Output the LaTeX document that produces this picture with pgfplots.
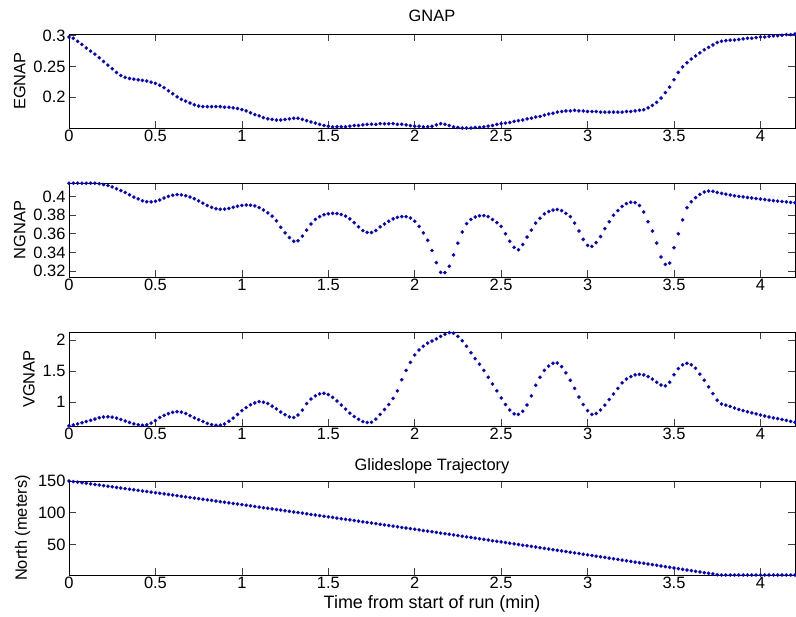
\documentclass[border=0pt]{standalone}
\usepackage{fontspec}
\setmainfont{Liberation Sans}
\usepackage{pgfplots}
\pgfplotsset{compat=1.18}
\definecolor{mblue}{RGB}{0,0,255}
\pgfplotsset{
  mstyle/.style={
    scale only axis, width=726bp, height=94bp,
    xmin=0, xmax=4.2, clip=false,
    xtick={0,0.5,1,1.5,2,2.5,3,3.5,4},
    xticklabels={0,0.5,1,1.5,2,2.5,3,3.5,4},
    tick align=inside, tick pos=both, major tick length=7bp,
    axis line style={line width=0.9bp},
    tick style={line width=0.7bp, black!75},
    tick label style={font=\fontsize{16.5}{19}\selectfont},
    xticklabel style={yshift=1bp},
    label style={font=\fontsize{16.5}{19}\selectfont},
    ylabel style={yshift=1bp},
    title style={font=\fontsize{16.5}{19}\selectfont},
    /pgf/number format/assume math mode=true,
    every axis plot/.style={only marks, mark=*, mark size=1.6bp, color=mblue, mark options={draw=none, fill=mblue}},
  }
}
\begin{document}
\begin{tikzpicture}
\useasboundingbox (0,0) rectangle (796bp,617bp);
% ---------------- EGNAP
\begin{axis}[mstyle, at={(69bp,489bp)}, anchor=south west,
  ymin=0.149, ymax=0.303, ytick={0.2,0.25,0.3}, yticklabels={0.2,0.25,0.3},
  ylabel={EGNAP}, title={GNAP}, title style={yshift=3bp}]
\addplot coordinates {
(0.000,0.298)(0.025,0.296)(0.050,0.291)(0.075,0.286)(0.100,0.280)(0.125,0.275)(0.150,0.270)(0.175,0.264)(0.200,0.258)(0.225,0.252)
(0.250,0.246)(0.275,0.240)(0.300,0.235)(0.325,0.232)(0.350,0.230)(0.375,0.229)(0.400,0.228)(0.425,0.227)(0.450,0.226)(0.475,0.224)
(0.500,0.222)(0.525,0.219)(0.550,0.215)(0.575,0.210)(0.600,0.205)(0.625,0.200)(0.650,0.196)(0.675,0.193)(0.700,0.190)(0.725,0.187)
(0.750,0.185)(0.775,0.184)(0.800,0.184)(0.825,0.184)(0.850,0.184)(0.875,0.184)(0.900,0.183)(0.925,0.183)(0.950,0.182)(0.975,0.181)
(1.000,0.179)(1.025,0.177)(1.050,0.174)(1.075,0.171)(1.100,0.169)(1.125,0.166)(1.150,0.164)(1.175,0.163)(1.200,0.162)(1.225,0.162)
(1.250,0.163)(1.275,0.164)(1.300,0.165)(1.325,0.165)(1.350,0.163)(1.375,0.161)(1.400,0.159)(1.425,0.157)(1.450,0.155)(1.475,0.153)
(1.500,0.152)(1.525,0.151)(1.550,0.151)(1.575,0.151)(1.600,0.151)(1.625,0.152)(1.650,0.153)(1.675,0.153)(1.700,0.154)(1.725,0.155)
(1.750,0.155)(1.775,0.155)(1.800,0.156)(1.825,0.156)(1.850,0.156)(1.875,0.156)(1.900,0.155)(1.925,0.155)(1.950,0.154)(1.975,0.153)
(2.000,0.152)(2.025,0.152)(2.050,0.151)(2.075,0.151)(2.100,0.152)(2.125,0.154)(2.150,0.156)(2.175,0.155)(2.200,0.153)(2.225,0.151)
(2.250,0.150)(2.275,0.149)(2.300,0.149)(2.325,0.149)(2.350,0.150)(2.375,0.150)(2.400,0.151)(2.425,0.152)(2.450,0.153)(2.475,0.155)
(2.500,0.156)(2.525,0.157)(2.550,0.158)(2.575,0.160)(2.600,0.161)(2.625,0.162)(2.650,0.164)(2.675,0.165)(2.700,0.167)(2.725,0.168)
(2.750,0.170)(2.775,0.172)(2.800,0.173)(2.825,0.175)(2.850,0.176)(2.875,0.177)(2.900,0.177)(2.925,0.178)(2.950,0.177)(2.975,0.177)
(3.000,0.176)(3.025,0.176)(3.050,0.176)(3.075,0.175)(3.100,0.175)(3.125,0.175)(3.150,0.175)(3.175,0.175)(3.200,0.175)(3.225,0.176)
(3.250,0.176)(3.275,0.177)(3.300,0.178)(3.325,0.179)(3.350,0.182)(3.375,0.186)(3.400,0.191)(3.425,0.198)(3.450,0.207)(3.475,0.216)
(3.500,0.228)(3.525,0.240)(3.550,0.249)(3.575,0.256)(3.600,0.262)(3.625,0.267)(3.650,0.272)(3.675,0.277)(3.700,0.281)(3.725,0.285)
(3.750,0.289)(3.775,0.291)(3.800,0.292)(3.825,0.293)(3.850,0.293)(3.875,0.294)(3.900,0.295)(3.925,0.296)(3.950,0.296)(3.975,0.297)
(4.000,0.298)(4.025,0.298)(4.050,0.299)(4.075,0.300)(4.100,0.300)(4.125,0.301)(4.150,0.302)(4.175,0.302)(4.200,0.303)
};
\end{axis}
% ---------------- NGNAP
\begin{axis}[mstyle, at={(69bp,340bp)}, anchor=south west,
  ymin=0.3135, ymax=0.4147, ytick={0.32,0.34,0.36,0.38,0.4}, yticklabels={0.32,0.34,0.36,0.38,0.4},
  ylabel={NGNAP}]
\addplot coordinates {
(0.000,0.4145)(0.025,0.4145)(0.050,0.4145)(0.075,0.4145)(0.100,0.4145)(0.125,0.4145)(0.150,0.4145)(0.175,0.4140)(0.200,0.4130)(0.225,0.4120)
(0.250,0.4105)(0.275,0.4085)(0.300,0.4065)(0.325,0.4045)(0.350,0.4020)(0.375,0.3995)(0.400,0.3975)(0.425,0.3955)(0.450,0.3945)(0.475,0.3943)
(0.500,0.3950)(0.525,0.3965)(0.550,0.3985)(0.575,0.4003)(0.600,0.4015)(0.625,0.4022)(0.650,0.4020)(0.675,0.4010)(0.700,0.3995)(0.725,0.3978)
(0.750,0.3955)(0.775,0.3930)(0.800,0.3905)(0.825,0.3885)(0.850,0.3870)(0.875,0.3864)(0.900,0.3866)(0.925,0.3873)(0.950,0.3885)(0.975,0.3897)
(1.000,0.3905)(1.025,0.3910)(1.050,0.3908)(1.075,0.3900)(1.100,0.3882)(1.125,0.3857)(1.150,0.3825)(1.175,0.3790)(1.200,0.3740)(1.225,0.3670)
(1.250,0.3610)(1.275,0.3560)(1.300,0.3520)(1.325,0.3525)(1.350,0.3575)(1.375,0.3640)(1.400,0.3705)(1.425,0.3755)(1.450,0.3785)(1.475,0.3805)
(1.500,0.3815)(1.525,0.3820)(1.550,0.3818)(1.575,0.3808)(1.600,0.3790)(1.625,0.3760)(1.650,0.3720)(1.675,0.3675)(1.700,0.3635)(1.725,0.3615)
(1.750,0.3613)(1.775,0.3635)(1.800,0.3675)(1.825,0.3705)(1.850,0.3735)(1.875,0.3760)(1.900,0.3777)(1.925,0.3785)(1.950,0.3785)(1.975,0.3770)
(2.000,0.3735)(2.025,0.3680)(2.050,0.3610)(2.075,0.3530)(2.100,0.3420)(2.125,0.3290)(2.150,0.3185)(2.175,0.3182)(2.200,0.3250)(2.225,0.3372)
(2.250,0.3500)(2.275,0.3620)(2.300,0.3710)(2.325,0.3755)(2.350,0.3780)(2.375,0.3795)(2.400,0.3795)(2.425,0.3785)(2.450,0.3755)(2.475,0.3720)
(2.500,0.3680)(2.525,0.3600)(2.550,0.3520)(2.575,0.3455)(2.600,0.3428)(2.625,0.3485)(2.650,0.3565)(2.675,0.3640)(2.700,0.3715)(2.725,0.3767)
(2.750,0.3815)(2.775,0.3840)(2.800,0.3855)(2.825,0.3862)(2.850,0.3850)(2.875,0.3820)(2.900,0.3785)(2.925,0.3715)(2.950,0.3630)(2.975,0.3540)
(3.000,0.3475)(3.025,0.3465)(3.050,0.3505)(3.075,0.3570)(3.100,0.3655)(3.125,0.3730)(3.150,0.3800)(3.175,0.3850)(3.200,0.3895)(3.225,0.3925)
(3.250,0.3940)(3.275,0.3935)(3.300,0.3905)(3.325,0.3835)(3.350,0.3730)(3.375,0.3630)(3.400,0.3500)(3.425,0.3350)(3.450,0.3270)(3.475,0.3285)
(3.500,0.3450)(3.525,0.3600)(3.550,0.3750)(3.575,0.3880)(3.600,0.3945)(3.625,0.3990)(3.650,0.4025)(3.675,0.4050)(3.700,0.4060)(3.725,0.4058)
(3.750,0.4045)(3.775,0.4035)(3.800,0.4027)(3.825,0.4018)(3.850,0.4010)(3.875,0.4003)(3.900,0.3997)(3.925,0.3991)(3.950,0.3985)(3.975,0.3980)
(4.000,0.3974)(4.025,0.3968)(4.050,0.3962)(4.075,0.3957)(4.100,0.3952)(4.125,0.3948)(4.150,0.3943)(4.175,0.3938)(4.200,0.3935)
};
\end{axis}
% ---------------- VGNAP
\begin{axis}[mstyle, at={(69bp,191bp)}, anchor=south west,
  ymin=0.613, ymax=2.13, ytick={1,1.5,2}, yticklabels={1,1.5,2},
  ylabel={VGNAP}]
\addplot coordinates {
(0.000,0.615)(0.025,0.630)(0.050,0.648)(0.075,0.665)(0.100,0.685)(0.125,0.705)(0.150,0.725)(0.175,0.745)(0.200,0.758)(0.225,0.762)
(0.250,0.756)(0.275,0.740)(0.300,0.718)(0.325,0.693)(0.350,0.668)(0.375,0.648)(0.400,0.633)(0.425,0.625)(0.450,0.632)(0.475,0.660)
(0.500,0.700)(0.525,0.750)(0.550,0.785)(0.575,0.812)(0.600,0.833)(0.625,0.843)(0.650,0.838)(0.675,0.815)(0.700,0.780)(0.725,0.745)
(0.750,0.715)(0.775,0.685)(0.800,0.655)(0.825,0.635)(0.850,0.625)(0.875,0.627)(0.900,0.645)(0.925,0.690)(0.950,0.740)(0.975,0.800)
(1.000,0.860)(1.025,0.910)(1.050,0.955)(1.075,0.985)(1.100,1.005)(1.125,0.995)(1.150,0.975)(1.175,0.935)(1.200,0.890)(1.225,0.840)
(1.250,0.795)(1.275,0.760)(1.300,0.750)(1.325,0.790)(1.350,0.870)(1.375,0.975)(1.400,1.050)(1.425,1.100)(1.450,1.130)(1.475,1.140)
(1.500,1.120)(1.525,1.075)(1.550,1.016)(1.575,0.950)(1.600,0.885)(1.625,0.820)(1.650,0.765)(1.675,0.720)(1.700,0.685)(1.725,0.670)
(1.750,0.675)(1.775,0.725)(1.800,0.800)(1.825,0.880)(1.850,0.960)(1.875,1.060)(1.900,1.180)(1.925,1.360)(1.950,1.510)(1.975,1.640)
(2.000,1.760)(2.025,1.840)(2.050,1.900)(2.075,1.950)(2.100,1.985)(2.125,2.020)(2.150,2.060)(2.175,2.095)(2.200,2.120)(2.225,2.110)
(2.250,2.060)(2.275,1.990)(2.300,1.900)(2.325,1.795)(2.350,1.700)(2.375,1.610)(2.400,1.510)(2.425,1.400)(2.450,1.290)(2.475,1.180)
(2.500,1.065)(2.525,0.960)(2.550,0.870)(2.575,0.810)(2.600,0.800)(2.625,0.850)(2.650,0.952)(2.675,1.100)(2.700,1.270)(2.725,1.400)
(2.750,1.510)(2.775,1.580)(2.800,1.625)(2.825,1.630)(2.850,1.570)(2.875,1.470)(2.900,1.350)(2.925,1.220)(2.950,1.080)(2.975,0.960)
(3.000,0.860)(3.025,0.800)(3.050,0.815)(3.075,0.870)(3.100,0.950)(3.125,1.040)(3.150,1.130)(3.175,1.220)(3.200,1.310)(3.225,1.370)
(3.250,1.410)(3.275,1.438)(3.300,1.446)(3.325,1.438)(3.350,1.410)(3.375,1.370)(3.400,1.320)(3.425,1.275)(3.450,1.262)(3.475,1.320)
(3.500,1.440)(3.525,1.540)(3.550,1.600)(3.575,1.624)(3.600,1.600)(3.625,1.545)(3.650,1.450)(3.675,1.350)(3.700,1.245)(3.725,1.135)
(3.750,1.030)(3.775,0.968)(3.800,0.950)(3.825,0.930)(3.850,0.905)(3.875,0.880)(3.900,0.862)(3.925,0.842)(3.950,0.825)(3.975,0.808)
(4.000,0.790)(4.025,0.773)(4.050,0.758)(4.075,0.745)(4.100,0.732)(4.125,0.718)(4.150,0.703)(4.175,0.688)(4.200,0.672)
};
\end{axis}
% ---------------- North
\begin{axis}[mstyle, at={(69bp,42bp)}, anchor=south west,
  ymin=2, ymax=150, ytick={50,100,150}, yticklabels={50,100,150},
  ylabel={North (meters)}, title={Glideslope Trajectory}, title style={yshift=-2bp},
  xlabel={Time from start of run (min)}, xlabel style={yshift=0bp, font=\fontsize{18}{19}\selectfont}]
\addplot coordinates {
(0.000,150.00)(0.025,149.09)(0.050,148.17)(0.075,147.26)(0.100,146.34)(0.125,145.43)(0.150,144.51)(0.175,143.59)(0.200,142.67)(0.225,141.75)
(0.250,140.83)(0.275,139.91)(0.300,138.98)(0.325,138.06)(0.350,137.13)(0.375,136.21)(0.400,135.28)(0.425,134.35)(0.450,133.42)(0.475,132.49)
(0.500,131.56)(0.525,130.63)(0.550,129.70)(0.575,128.76)(0.600,127.83)(0.625,126.89)(0.650,125.96)(0.675,125.02)(0.700,124.08)(0.725,123.14)
(0.750,122.20)(0.775,121.26)(0.800,120.32)(0.825,119.38)(0.850,118.43)(0.875,117.49)(0.900,116.54)(0.925,115.60)(0.950,114.65)(0.975,113.70)
(1.000,112.75)(1.025,111.80)(1.050,110.85)(1.075,109.90)(1.100,108.94)(1.125,107.99)(1.150,107.03)(1.175,106.08)(1.200,105.12)(1.225,104.16)
(1.250,103.20)(1.275,102.24)(1.300,101.28)(1.325,100.32)(1.350,99.36)(1.375,98.39)(1.400,97.43)(1.425,96.46)(1.450,95.50)(1.475,94.53)
(1.500,93.56)(1.525,92.59)(1.550,91.62)(1.575,90.65)(1.600,89.68)(1.625,88.71)(1.650,87.73)(1.675,86.76)(1.700,85.78)(1.725,84.81)
(1.750,83.83)(1.775,82.85)(1.800,81.87)(1.825,80.89)(1.850,79.91)(1.875,78.93)(1.900,77.94)(1.925,76.96)(1.950,75.97)(1.975,74.99)
(2.000,74.00)(2.025,73.01)(2.050,72.02)(2.075,71.03)(2.100,70.04)(2.125,69.05)(2.150,68.06)(2.175,67.06)(2.200,66.07)(2.225,65.07)
(2.250,64.08)(2.275,63.08)(2.300,62.08)(2.325,61.08)(2.350,60.08)(2.375,59.08)(2.400,58.08)(2.425,57.08)(2.450,56.07)(2.475,55.07)
(2.500,54.06)(2.525,53.06)(2.550,52.05)(2.575,51.04)(2.600,50.03)(2.625,49.02)(2.650,48.01)(2.675,47.00)(2.700,45.98)(2.725,44.97)
(2.750,43.95)(2.775,42.94)(2.800,41.92)(2.825,40.90)(2.850,39.88)(2.875,38.86)(2.900,37.84)(2.925,36.82)(2.950,35.80)(2.975,34.77)
(3.000,33.75)(3.025,32.72)(3.050,31.70)(3.075,30.67)(3.100,29.64)(3.125,28.61)(3.150,27.58)(3.175,26.55)(3.200,25.52)(3.225,24.49)
(3.250,23.45)(3.275,22.42)(3.300,21.38)(3.325,20.35)(3.350,19.31)(3.375,18.27)(3.400,17.23)(3.425,16.19)(3.450,15.15)(3.475,14.11)
(3.500,13.06)(3.525,12.02)(3.550,10.97)(3.575,9.93)(3.600,8.88)(3.625,7.83)(3.650,6.78)(3.675,5.73)(3.700,4.68)(3.725,3.63)
(3.750,2.50)(3.775,2.00)(3.800,2.00)(3.825,2.00)(3.850,2.00)(3.875,2.00)(3.900,2.00)(3.925,2.00)(3.950,2.00)(3.975,2.00)
(4.000,2.00)(4.025,2.00)(4.050,2.00)(4.075,2.00)(4.100,2.00)(4.125,2.00)(4.150,2.00)(4.175,2.00)(4.200,2.00)
};
\end{axis}
\end{tikzpicture}
\end{document}
